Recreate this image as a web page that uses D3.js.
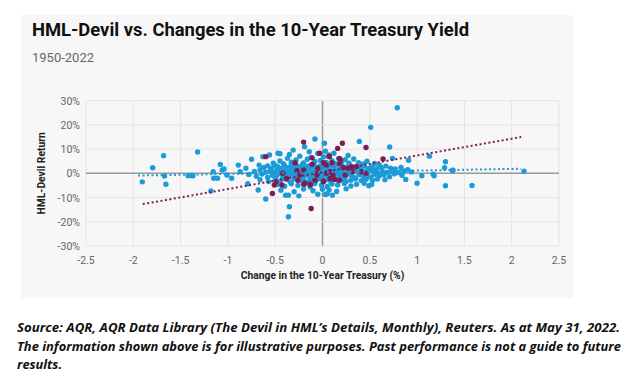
<!DOCTYPE html>
<html>
<head>
<meta charset="utf-8">
<script src="https://cdn.jsdelivr.net/npm/d3@7"></script>
<style>
  body { margin: 0; background: #fff; }
  svg { display: block; }
</style>
</head>
<body>
<div id="chart"></div>
<script>
// x = change in 10y treasury (%), y = HML-Devil return (%)
var bluePoints = [
  [-1.905,-3.5],[-1.795,2.3],[-1.68,7.3],[-1.67,-1.1],[-1.655,-4.5],[-1.32,8.8],
  [-1.42,-1.0],[-1.38,-0.9],[-1.37,-1.0],[-1.18,-7.3],[-1.155,0.7],[-1.15,-2],[-1.11,-2],
  [-1.08,3.7],[-1.04,1.8],[-1.06,1.4],[-1.01,-0.7],[-0.96,-2],[-0.89,3.4],[-0.87,0.7],
  [-0.81,2.1],[-0.79,-4.3],[-0.75,5.8],[-0.68,-6.9],[-0.67,3.4],[-0.63,6.9],[-0.6,-10.6],
  [-0.56,7.6],[-0.47,8.3],[-0.45,8.1],[-0.39,-9],[-0.36,-9],[-0.35,-13.8],[-0.36,-17.9],
  [-0.31,9.6],[-0.19,11],[-0.08,14.2],[0.03,-8.7],
  [0.79,27.1],[0.51,19],[0.39,13.2],[0.71,10.9],[0.02,12.4],[0.74,6.2],[0.91,5.4],
  [1.13,7.1],[1.3,4.8],[1.29,2.3],[1.37,1.2],[1.38,1.3],[1.17,-0.4],[1.18,-1],[1.05,-1],
  [1.0,-4.1],[1.3,-5.1],[1.58,-5],[2.13,0.9],[0.49,-5.1],[0.88,-2.5],[0.05,-8.4],
  [0.105,-9],[0.07,-6.9],
  // upper band
  [-0.52,4.2],[-0.45,5.1],[-0.41,3.9],[-0.37,6.2],[-0.33,4.6],[-0.28,5.5],[-0.24,7.1],
  [-0.2,4.3],[-0.16,5.8],[-0.12,6.6],[-0.08,4.9],[-0.05,8.2],[-0.02,5.3],[0.01,6.8],
  [0.04,4.5],[0.07,7.6],[0.1,5.2],[0.13,4.1],[0.17,6.1],[0.2,4.8],[0.24,5.6],[0.28,4.2],
  [0.33,5.9],[0.38,4.4],[0.43,3.9],[0.47,5.0],[0.55,4.1],[0.6,3.5],[0.03,9.1],[-0.14,8.9],
  [0.12,8.3],[-0.35,7.8],[0.27,7.4],
  // 2..4
  [-0.62,2.4],[-0.58,3.1],[-0.54,2.0],[-0.5,3.3],[-0.47,2.6],[-0.43,1.9],[-0.4,3.0],
  [-0.36,2.3],[-0.33,3.6],[-0.3,2.1],[-0.27,3.2],[-0.24,2.5],[-0.21,3.8],[-0.18,2.2],
  [-0.15,3.1],[-0.12,2.6],[-0.09,3.5],[-0.06,2.0],[-0.03,3.0],[0.0,2.4],[0.03,3.6],
  [0.06,2.1],[0.09,3.2],[0.12,2.7],[0.15,3.5],[0.18,2.2],[0.21,3.0],[0.25,2.4],[0.29,3.3],
  [0.32,2.0],[0.36,2.8],[0.4,2.3],[0.44,3.1],[0.48,2.0],[0.52,2.6],[0.57,1.9],[0.62,2.5],
  [0.67,3.0],[0.72,2.1],[0.77,1.8],[0.83,2.4],[0.9,1.5],
  // 0..2
  [-0.72,0.8],[-0.66,1.4],[-0.6,0.5],[-0.55,1.2],[-0.51,0.3],[-0.48,1.6],[-0.44,0.9],
  [-0.41,0.2],[-0.38,1.3],[-0.35,0.6],[-0.32,1.8],[-0.29,0.4],[-0.26,1.1],[-0.23,0.1],
  [-0.2,1.5],[-0.17,0.7],[-0.14,1.9],[-0.11,0.3],[-0.08,1.2],[-0.05,0.5],[-0.02,1.6],
  [0.01,0.2],[0.04,1.0],[0.07,1.7],[0.1,0.4],[0.13,1.3],[0.16,0.6],[0.19,1.8],[0.22,0.2],
  [0.26,1.1],[0.3,0.7],[0.34,1.5],[0.38,0.3],[0.42,1.2],[0.46,0.5],[0.5,1.4],[0.54,0.8],
  [0.58,0.1],[0.63,1.1],[0.68,0.4],[0.73,0.9],[0.8,0.3],[0.86,1.0],[0.94,0.6],
  // -2..0
  [-0.78,-0.5],[-0.7,-1.2],[-0.64,-0.3],[-0.58,-1.7],[-0.53,-0.8],[-0.49,-1.4],[-0.45,-0.2],
  [-0.42,-1.9],[-0.39,-0.7],[-0.36,-1.3],[-0.33,-0.4],[-0.3,-1.6],[-0.27,-0.9],[-0.24,-0.1],
  [-0.21,-1.5],[-0.18,-0.6],[-0.15,-1.1],[-0.12,-1.8],[-0.09,-0.3],[-0.06,-1.2],[-0.03,-0.8],
  [0.0,-1.6],[0.03,-0.4],[0.06,-1.3],[0.09,-0.9],[0.12,-1.7],[0.15,-0.2],[0.18,-1.1],
  [0.21,-0.6],[0.24,-1.5],[0.28,-0.3],[0.31,-1.0],[0.35,-1.8],[0.39,-0.5],[0.43,-1.2],
  [0.47,-0.7],[0.51,-1.6],[0.55,-0.4],[0.6,-1.0],[0.65,-0.6],[0.71,-1.4],[0.76,-0.2],[0.84,-0.8],
  // -4..-2
  [-0.66,-2.6],[-0.57,-3.4],[-0.5,-2.2],[-0.44,-3.0],[-0.38,-2.5],[-0.34,-3.7],[-0.3,-2.3],
  [-0.25,-3.1],[-0.2,-2.7],[-0.16,-3.5],[-0.12,-2.4],[-0.07,-3.0],[-0.03,-2.2],[0.01,-3.3],
  [0.05,-2.6],[0.09,-3.8],[0.13,-2.3],[0.17,-3.1],[0.21,-2.5],[0.25,-3.4],[0.3,-2.8],
  [0.35,-2.2],[0.41,-3.0],[0.46,-2.4],[0.53,-2.9],[0.58,-2.3],[0.66,-2.6],
  // -6..-4
  [-0.48,-4.6],[-0.4,-5.3],[-0.33,-4.3],[-0.26,-5.0],[-0.19,-4.5],[-0.13,-5.6],[-0.08,-4.2],
  [-0.01,-4.9],[0.05,-5.4],[0.1,-4.4],[0.16,-4.8],[0.23,-4.2],[0.3,-5.2],[0.36,-4.5],
  [0.44,-4.1],[0.52,-4.6],
  // lower sparse
  [-0.44,-7.0],[-0.3,-7.6],[-0.2,-6.5],[-0.1,-7.2],[0.0,-6.6],[0.15,-7.5],[0.25,-6.4],
  [-0.25,-9.3],[-0.05,-8.6]
];

var purplePoints = [
  [-0.2,12.9],[0.21,12.4],[0.16,10.3],[0.46,10.7],[0.07,7.1],[-0.11,3.8],[0.01,4.4],
  [0.1,4.4],[0.19,5.5],[0.22,2.3],[-0.2,1.4],[-0.27,1.1],[-0.06,0],[0.04,0],[0.11,-0.7],
  [0.27,2.1],[0.36,2.7],[0.41,0.7],[0.46,0],[0.64,5.9],[-0.26,-2.8],[-0.19,-4.1],
  [-0.13,-4.4],[-0.08,-2.8],[0.01,-3.2],[0.13,-2.5],[0.18,-2.8],[-0.03,8.3],[0.18,4.1],
  [-0.29,4.4],[-0.6,6.9],[-0.53,-8.3],[-0.51,-4.8],[-0.42,0],[-0.38,-2.1],[-0.24,-0.7],
  [-0.2,-4.5],[-0.13,-4.8],[-0.06,-0.7],[-0.11,6.4],[-0.05,2.1],[0.04,3.4],[-0.49,-3.5],
  [-0.43,-4.8],[0.08,-2.1],[0.07,6.9],[0.18,6.2],[0.31,2.7],[0.01,-3.5],[0.24,-0.7],
  [0.32,0.7],[0.08,0.7],[-0.12,-14.5]
];

// regression line endpoints
var blueTrend = [[-1.95,-0.9],[2.1,1.9]];
var purpleTrend = [[-1.9,-12.7],[2.1,15.0]];

var xTicks = [-2.5,-2,-1.5,-1,-0.5,0,0.5,1,1.5,2,2.5];
var yTicks = [-30,-20,-10,0,10,20,30];

var W = 635, H = 375;
var svg = d3.select("#chart").append("svg")
    .attr("width", W)
    .attr("height", H);

// grey panel
svg.append("rect")
    .attr("x", 21).attr("y", 15)
    .attr("width", 552).attr("height", 283)
    .attr("fill", "#f7f7f7");

svg.append("text")
    .attr("x", 32).attr("y", 36)
    .attr("font-family", "Roboto, sans-serif")
    .attr("font-weight", 700)
    .attr("font-size", 19)
    .attr("textLength", 437)
    .attr("lengthAdjust", "spacingAndGlyphs")
    .attr("fill", "#111")
    .text("HML-Devil vs. Changes in the 10-Year Treasury Yield");

svg.append("text")
    .attr("x", 32).attr("y", 62)
    .attr("font-family", "Roboto, sans-serif")
    .attr("font-size", 13)
    .attr("fill", "#666")
    .text("1950-2022");

var x = d3.scaleLinear().domain([-2.5, 2.5]).range([86, 559]);
var y = d3.scaleLinear().domain([-30, 30]).range([246, 100.7]);

var g = svg.append("g");

// gridlines
g.selectAll(".vgrid").data(xTicks).enter().append("line")
    .attr("x1", d => x(d)).attr("x2", d => x(d))
    .attr("y1", y(30)).attr("y2", y(-30))
    .attr("stroke", d => d === 0 ? "#9a9a9a" : "#e4e4e4")
    .attr("stroke-width", d => d === 0 ? 1.5 : 1);

g.selectAll(".hgrid").data(yTicks).enter().append("line")
    .attr("x1", x(-2.5)).attr("x2", x(2.5))
    .attr("y1", d => y(d)).attr("y2", d => y(d))
    .attr("stroke", d => d === 0 ? "#9a9a9a" : "#e4e4e4")
    .attr("stroke-width", d => d === 0 ? 1.5 : 1);

// tick labels
g.selectAll(".xlab").data(xTicks).enter().append("text")
    .attr("x", d => x(d)).attr("y", 264)
    .attr("text-anchor", "middle")
    .attr("font-family", "Roboto, sans-serif")
    .attr("font-size", 10.5)
    .attr("fill", "#666")
    .text(d => d);

g.selectAll(".ylab").data(yTicks).enter().append("text")
    .attr("x", 80).attr("y", d => y(d) + 4)
    .attr("text-anchor", "end")
    .attr("font-family", "Roboto, sans-serif")
    .attr("font-size", 10.5)
    .attr("fill", "#666")
    .text(d => d + "%");

svg.append("text")
    .attr("x", x(0)).attr("y", 279)
    .attr("text-anchor", "middle")
    .attr("font-family", "Roboto, sans-serif")
    .attr("font-weight", 700)
    .attr("font-size", 10.3)
    .attr("fill", "#222")
    .text("Change in the 10-Year Treasury (%)");

svg.append("text")
    .attr("transform", "translate(45," + y(0) + ") rotate(-90)")
    .attr("text-anchor", "middle")
    .attr("font-family", "Roboto, sans-serif")
    .attr("font-weight", 700)
    .attr("font-size", 10.3)
    .attr("fill", "#222")
    .text("HML-Devil Return");

// points
g.selectAll(".blue").data(bluePoints).enter().append("circle")
    .attr("cx", d => x(d[0])).attr("cy", d => y(d[1]))
    .attr("r", 2.7)
    .attr("fill", "#1b9bd7");

g.selectAll(".purple").data(purplePoints).enter().append("circle")
    .attr("cx", d => x(d[0])).attr("cy", d => y(d[1]))
    .attr("r", 2.7)
    .attr("fill", "#7d1d57");

// trend lines
var line = d3.line().x(d => x(d[0])).y(d => y(d[1]));
g.append("path").datum(blueTrend)
    .attr("d", line)
    .attr("fill", "none")
    .attr("stroke", "#1b9bd7")
    .attr("stroke-width", 2)
    .attr("stroke-dasharray", "2,2.5");
g.append("path").datum(purpleTrend)
    .attr("d", line)
    .attr("fill", "none")
    .attr("stroke", "#7d1d57")
    .attr("stroke-width", 2)
    .attr("stroke-dasharray", "2,2.5");

// source note
var notes = [
  ["Source: AQR, AQR Data Library (The Devil in HML\u2019s Details, Monthly), Reuters. As at May 31, 2022.", 603],
  ["The information shown above is for illustrative purposes. Past performance is not a guide to future", 604],
  ["results.", 0]
];
svg.selectAll(".note").data(notes).enter().append("text")
    .attr("x", 17)
    .attr("y", (d, i) => 332 + i * 18.5)
    .attr("font-family", "'Liberation Sans Narrow', 'Open Sans', sans-serif")
    .attr("font-style", "italic")
    .attr("font-weight", 700)
    .attr("font-size", 12.8)
    .attr("fill", "#111")
    .each(function(d) {
      if (d[1]) d3.select(this).attr("textLength", d[1]).attr("lengthAdjust", "spacingAndGlyphs");
    })
    .text(d => d[0]);
</script>
</body>
</html>
